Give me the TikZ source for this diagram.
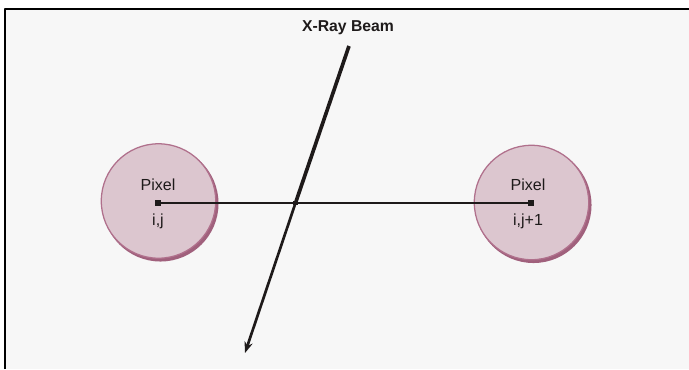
\documentclass[tikz,border=0pt]{standalone}
\usepackage{fontspec}
\setmainfont{Liberation Sans}
\usetikzlibrary{arrows.meta,calc}
\definecolor{panelgray}{RGB}{247,247,247}
\definecolor{pixelfill}{RGB}{220,198,207}
\definecolor{pixeledge}{RGB}{176,112,140}
\definecolor{pixelshade}{RGB}{160,96,124}
\definecolor{inkdark}{RGB}{30,26,26}

\begin{document}
\begin{tikzpicture}[x=0.025cm,y=-0.025cm,line join=round,
  pixel/.style={circle,fill=pixelfill,draw=pixeledge,line width=0.9pt,minimum size=2.86cm,inner sep=0pt},
  pixelshadow/.style={circle,fill=pixelshade,minimum size=2.9cm,inner sep=0pt},
  centre/.style={fill=inkdark,minimum size=4.5pt,inner sep=0pt},
  lbl/.style={font=\fontsize{11.4}{13}\selectfont,text=inkdark}]
\useasboundingbox (0,0) rectangle (689,369);
\fill[panelgray] (5,9) rectangle (689,369);
\draw[line width=1.5pt] (5,369) -- (5,9) -- (689,9);
% pixels
\node[pixelshadow] at (160.5,203.5) {};
\node[pixel] (pixA) at (158.5,201) {};
\node[pixelshadow] at (533.5,205) {};
\node[pixel] (pixB) at (531.5,202.5) {};
\node[centre] (cA) at (158,203) {};
\node[centre] (cB) at (531,203) {};
\node[lbl] at (158,185) {Pixel};
\node[lbl] at (158,221) {i,j};
\node[lbl] at (528,185) {Pixel};
\node[lbl] at (528,221) {i,j+1};
\draw[inkdark,line width=1.4pt] (cA) -- (cB);
% beam
\coordinate (beamtop) at (349,46);
\coordinate (beamend) at (245,353);
\node[centre,minimum size=3.5pt] (hit) at (295.5,203) {};
\node[lbl,font=\fontsize{11.2}{13}\selectfont\bfseries] (beamlbl) at (348,28) {X-Ray Beam};
\draw[inkdark,line width=2.6pt] (beamtop) -- (hit.center);
\draw[inkdark,line width=1.9pt,-{Stealth[length=8pt,width=6pt]}] (hit.center) -- (beamend);
\end{tikzpicture}
\end{document}
